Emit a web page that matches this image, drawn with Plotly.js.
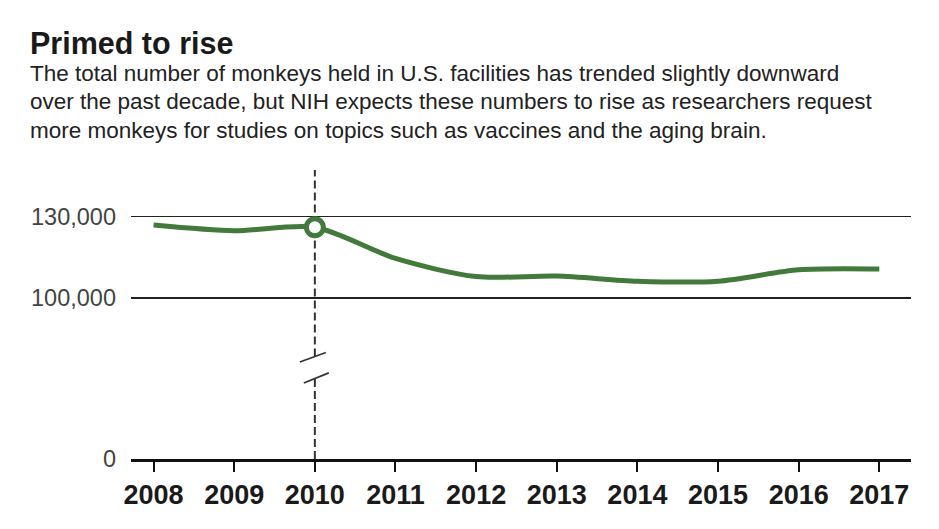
<!DOCTYPE html>
<html>
<head>
<meta charset="utf-8">
<script src="https://cdn.plot.ly/plotly-3.0.1.min.js"></script>
<style>
  html, body { margin: 0; padding: 0; background: #fff; }
  #chart { width: 939px; height: 529px; }
</style>
</head>
<body>
<div id="chart"></div>
<script>
// ---- data ----
const years = [2008, 2009, 2010, 2011, 2012, 2013, 2014, 2015, 2016, 2017];
const monkeys = [126900, 124800, 126100, 114600, 107900, 108100, 106200, 106200, 110400, 110700];
const highlightIndex = 2; // 2010
const upperTicks = [100000, 130000];
const upperTickText = ['100,000', '130,000'];
const lowerTicks = [0];
const lowerTickText = ['0'];
const titleText = 'Primed to rise';
const subtitleLines = [
  'The total number of monkeys held in U.S. facilities has trended slightly downward',
  'over the past decade, but NIH expects these numbers to rise as researchers request',
  'more monkeys for studies on topics such as vaccines and the aging brain.'
];

// ---- layout geometry (pixels) ----
const W = 939, H = 529;
const mL = 131, mR = 28, mT = 170, mB = 70;
const plotH = H - mT - mB;
const pxToPaperY = (py) => (H - mB - py) / plotH;
const pxToPaperX = (px) => (px - mL) / (W - mL - mR);

const green = '#427a3b';
const sans = '"Liberation Sans", Arial, sans-serif';

const traces = [
  // empty trace that registers the lower (zero) part of the broken axis
  { x: [], y: [], xaxis: 'x', yaxis: 'y', mode: 'lines', hoverinfo: 'skip', showlegend: false },
  {
    x: years, y: monkeys, xaxis: 'x', yaxis: 'y2',
    mode: 'lines', line: { color: green, width: 5, shape: 'spline', smoothing: 0.8 },
    hoverinfo: 'skip', showlegend: false
  },
  {
    x: [years[highlightIndex]], y: [monkeys[highlightIndex]], xaxis: 'x', yaxis: 'y2',
    mode: 'markers',
    marker: { symbol: 'circle', size: 17, color: '#ffffff', line: { color: green, width: 5 } },
    hoverinfo: 'skip', showlegend: false
  }
];

const dashX = years[highlightIndex];
const layout = {
  width: W, height: H,
  margin: { l: mL, r: mR, t: mT, b: mB, pad: 0 },
  paper_bgcolor: '#fff', plot_bgcolor: '#fff',
  showlegend: false,
  xaxis: {
    range: [2007.72, 2017.393], anchor: 'y',
    tickvals: years, ticktext: years.map(String),
    showgrid: false, zeroline: false,
    showline: true, linecolor: '#111', linewidth: 2.5,
    ticks: 'outside', ticklen: 10, tickwidth: 2, tickcolor: '#111',
    ticklabelstandoff: 0,
    tickfont: { family: sans, size: 27, color: '#1a1a1a', weight: 'bold' },
    fixedrange: true
  },
  yaxis: {
    domain: [0, 0.2], range: [0, 1], anchor: 'x',
    tickvals: lowerTicks, ticktext: lowerTickText,
    showgrid: false, zeroline: false, showline: false, ticks: '',
    ticklabelstandoff: 14,
    tickfont: { family: sans, size: 23.5, color: '#444' },
    fixedrange: true
  },
  yaxis2: {
    domain: [pxToPaperY(340), 1], range: [84502, 147232], anchor: 'x',
    tickvals: upperTicks, ticktext: upperTickText,
    showgrid: true, gridcolor: '#222', gridwidth: 1.5,
    zeroline: false, showline: false, ticks: '',
    ticklabelstandoff: 14,
    tickfont: { family: sans, size: 23.5, color: '#444' },
    fixedrange: true
  },
  shapes: [
    { type: 'line', xref: 'x', yref: 'paper', x0: dashX, x1: dashX,
      y0: pxToPaperY(356.6), y1: 1, line: { color: '#333', width: 2, dash: '8px,4px' }, layer: 'below' },
    { type: 'line', xref: 'x', yref: 'paper', x0: dashX, x1: dashX,
      y0: 0, y1: pxToPaperY(378.5), line: { color: '#333', width: 2, dash: '8px,4px' }, layer: 'below' },
    { type: 'line', xref: 'x', yref: 'paper', xsizemode: 'pixel', ysizemode: 'pixel',
      xanchor: dashX, yanchor: pxToPaperY(357), x0: -15, x1: 11, y0: -5, y1: 4.5,
      line: { color: '#333', width: 1.8 } },
    { type: 'line', xref: 'x', yref: 'paper', xsizemode: 'pixel', ysizemode: 'pixel',
      xanchor: dashX, yanchor: pxToPaperY(378), x0: -11, x1: 14, y0: -5, y1: 5.2,
      line: { color: '#333', width: 1.8 } }
  ],
  annotations: [
    { xref: 'paper', yref: 'paper', x: pxToPaperX(28), y: pxToPaperY(24),
      xanchor: 'left', yanchor: 'top', showarrow: false, align: 'left',
      text: titleText, font: { family: sans, size: 30.5, color: '#1a1a1a', weight: 'bold' } }
  ].concat(subtitleLines.map((t, i) => ({
      xref: 'paper', yref: 'paper', x: pxToPaperX(28), y: pxToPaperY(58.5 + i * 28.5),
      xanchor: 'left', yanchor: 'top', showarrow: false, align: 'left',
      text: t, font: { family: sans, size: 22.5, color: '#222' }
  })))
};

Plotly.newPlot('chart', traces, layout, { displayModeBar: false, staticPlot: true });
</script>
</body>
</html>
